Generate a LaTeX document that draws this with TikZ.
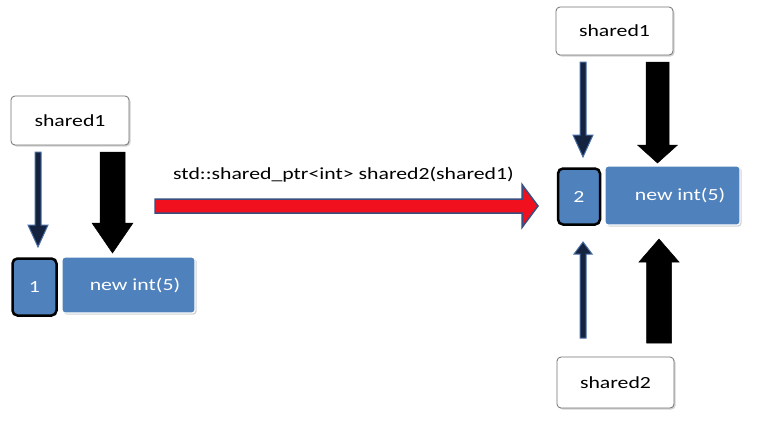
\documentclass[tikz,border=0pt]{standalone}
\usepackage{fontspec}
\setmainfont[FakeStretch=1.28]{Carlito}
\usetikzlibrary{shadows,calc}
\definecolor{ofblue}{HTML}{4F81BD}
\definecolor{navyfill}{HTML}{14233F}
\definecolor{navyline}{HTML}{4A6FA5}
\definecolor{redfill}{HTML}{F0101E}
\definecolor{redline}{HTML}{3A4F80}
\newcommand\blockarrow[6]{%
  \path coordinate (ba-h) at ($(#3)!#6!(#2)$);
  \draw[#1] ($(#2)!#4!90:(#3)$) -- ($(ba-h)!#4!90:(#3)$) -- ($(ba-h)!#5!90:(#3)$) -- (#3)
    -- ($(ba-h)!#5!-90:(#3)$) -- ($(ba-h)!#4!-90:(#3)$) -- ($(#2)!#4!-90:(#3)$) -- cycle;}
\begin{document}
\begin{tikzpicture}[x=1pt,y=-1pt,
  every node/.style={font=\fontsize{17}{20}\selectfont, inner sep=0pt},
  ptrbox/.style={draw=black!55, fill=white, rounded corners=4pt, line width=0.8pt,
    drop shadow={shadow xshift=1.5pt, shadow yshift=-1.5pt, opacity=0.35}},
  cntbox/.style={draw=black, line width=2.5pt, fill=ofblue, rounded corners=5pt, text=white},
  objbox/.style={draw=white, line width=1.2pt, fill=ofblue, rounded corners=3pt, text=white,
    drop shadow={shadow xshift=1.5pt, shadow yshift=-1.5pt, opacity=0.35}},
  thinarrow/.style={fill=navyfill, draw=navyline, line width=1pt},
  thickarrow/.style={fill=black, draw=black, line width=0.5pt},
  redarrow/.style={fill=redfill, draw=redline, line width=1.5pt}]
\useasboundingbox (0,0) rectangle (757,439);
\fill[white] (0,0) rectangle (757,439);

% left group
\node[ptrbox, minimum width=118pt, minimum height=49pt] (s1L) at (70,120.5) {shared1};
\node[cntbox, minimum width=44pt, minimum height=57pt] (c1) at (34.5,287) {1};
\node[objbox, minimum width=133pt, minimum height=56pt] (o1) at (128.5,285) {};
\node[text=white] (o1t) at (135,285) {new int(5)};

% right group
\node[ptrbox, minimum width=117pt, minimum height=48pt] (s1R) at (614.5,31) {shared1};
\node[cntbox, minimum width=42pt, minimum height=56pt] (c2) at (579,196.5) {2};
\node[objbox, minimum width=135pt, minimum height=59pt] (o2) at (672.5,195.5) {};
\node[text=white] (o2t) at (680,195.5) {new int(5)};
\node[ptrbox, minimum width=117pt, minimum height=51pt] (s2) at (615.5,382.5) {shared2};

% label
\node (lbl) at (343.5,175) {std::shared\_ptr<int> shared2(shared1)};

% arrow end points
\coordinate (aL1s) at (38,152);   \coordinate (aL1e) at (38,247);
\coordinate (aL2s) at (112.5,152);\coordinate (aL2e) at (112.5,253);
\coordinate (aR1s) at (583,62);   \coordinate (aR1e) at (583,157);
\coordinate (aR2s) at (657.5,62); \coordinate (aR2e) at (657.5,163);
\coordinate (aR3s) at (583,338);  \coordinate (aR3e) at (583,242);
\coordinate (aR4s) at (659,343);  \coordinate (aR4e) at (659,239);
\coordinate (rs) at (155,206);    \coordinate (re) at (538,206);

\blockarrow{thinarrow}{aL1s}{aL1e}{3pt}{10pt}{22pt}
\blockarrow{thickarrow}{aL2s}{aL2e}{12.5pt}{20.5pt}{30pt}
\blockarrow{thinarrow}{aR1s}{aR1e}{3pt}{10pt}{22pt}
\blockarrow{thickarrow}{aR2s}{aR2e}{11.5pt}{20pt}{18pt}
\blockarrow{thinarrow}{aR3s}{aR3e}{3pt}{9pt}{12pt}
\blockarrow{thickarrow}{aR4s}{aR4e}{12.5pt}{20pt}{23pt}
\blockarrow{redarrow}{rs}{re}{7pt}{21.5pt}{16pt}
\end{tikzpicture}
\end{document}
